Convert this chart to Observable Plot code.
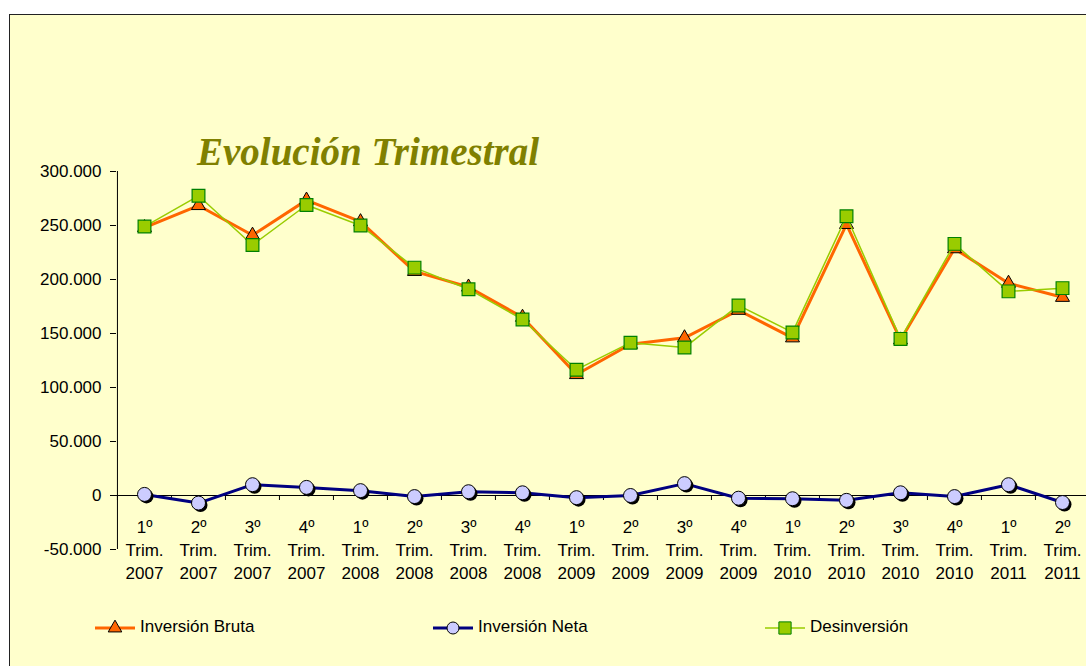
<!DOCTYPE html>
<html><head><meta charset="utf-8">
<script src="https://cdn.jsdelivr.net/npm/d3@7"></script>
<script src="https://cdn.jsdelivr.net/npm/@observablehq/plot@0.6"></script>
<style>
html,body{margin:0;padding:0;background:#fff;overflow:hidden;width:1086px;height:666px;}
#frame{position:absolute;left:9px;top:14px;width:1100px;height:700px;background:#FFFFCC;border-left:1px solid #222;border-top:1px solid #222;}
#chart,#overlay{position:absolute;left:0;top:0;}
#chart{width:1100px;}
#chart svg{max-width:none !important;}
</style></head><body>
<div id="frame"></div>
<div id="chart"></div>
<svg id="overlay" width="1086" height="666"></svg>
<script>
const trimestres = ["1º","2º","3º","4º","1º","2º","3º","4º","1º","2º","3º","4º","1º","2º","3º","4º","1º","2º"];
const anios = ["2007","2007","2007","2007","2008","2008","2008","2008","2009","2009","2009","2009","2010","2010","2010","2010","2011","2011"];
const inversionBruta = [248000,268500,241000,273500,253500,207500,193000,165000,112000,140000,146000,171500,146000,251000,144000,228500,196500,183500];
const inversionNeta = [1000,-7000,10000,7500,4500,-1000,3500,2500,-2000,0,11000,-2500,-3000,-4500,2500,-1000,10000,-6500];
const desinversion = [249000,277500,232000,269000,250000,211000,191000,163000,116500,141500,137000,176000,151000,258500,145000,233000,189000,192000];
const yTicks = [-50000,0,50000,100000,150000,200000,250000,300000];
const seriesNames = ["Inversión Bruta","Inversión Neta","Desinversión"];
const titulo = "Evolución Trimestral";

const categories = trimestres.map((t,i)=>`${t}\nTrim.\n${anios[i]}`);
const rows = categories.map((c,i)=>({cat:c, bruta:inversionBruta[i], neta:inversionNeta[i], desinv:desinversion[i]}));

const fmt = d3.formatLocale({decimal:",",thousands:".",grouping:[3],minus:"-"}).format(",");
const W = 1100, ML = 116, MR = 10;
const bw = (W - ML - MR) / categories.length;
const font = "'Liberation Sans', Arial, sans-serif";

const chart = Plot.plot({
  width: W, height: 590,
  marginLeft: ML, marginRight: MR, marginTop: 171, marginBottom: 41,
  style: {background:"transparent", fontFamily: font, fontSize:"17px", color:"#000", overflow:"visible", maxWidth:"none"},
  x: {type:"band", domain: categories, padding:0, axis:null},
  y: {domain:[-50000,300000], axis:null},
  marks: [
    Plot.axisY(yTicks, {tickSize:6, tickPadding:9, tickFormat:fmt, fontSize:17, label:null, stroke:"#000"}),
    Plot.ruleX([categories[0]], {dx:-bw/2, stroke:"#000"}),
    Plot.ruleY([0], {stroke:"#000"}),
    Plot.ruleX(rows, {x:"cat", y1:()=>0, y2:()=>0, insetBottom:-5, dx:-bw/2, stroke:"#000"}),
    Plot.text(rows, {x:"cat", y:()=>0, text:"cat", lineAnchor:"top", dy:21, lineHeight:1.35, fontSize:17, fill:"#000"}),
    // Inversión Bruta
    Plot.line(rows, {x:"cat", y:"bruta", stroke:"#FF6600", strokeWidth:3}),
    Plot.dot(rows, {x:"cat", y:"bruta", symbol:"triangle", r:5.2, fill:"#FF6600", stroke:"#000", strokeWidth:1}),
    // Desinversión
    Plot.line(rows, {x:"cat", y:"desinv", stroke:"#99CC00", strokeWidth:1.5}),
    Plot.dot(rows, {x:"cat", y:"desinv", symbol:"square", r:7.2, fill:"#99CC00", stroke:"#008000", strokeWidth:1.2}),
    // Inversión Neta
    Plot.line(rows, {x:"cat", y:"neta", stroke:"#000080", strokeWidth:3}),
    Plot.dot(rows, {x:"cat", y:"neta", r:7, fill:"#000", dx:2, dy:2}),
    Plot.dot(rows, {x:"cat", y:"neta", r:7, fill:"#CCCCFF", stroke:"#000", strokeWidth:1})
  ]
});
document.getElementById("chart").appendChild(chart);

// Title and legend
const ov = d3.select("#overlay");
ov.append("text").attr("x",197).attr("y",165)
  .attr("font-family","'Liberation Serif', 'Times New Roman', serif")
  .attr("font-size",39).attr("font-weight","bold").attr("font-style","italic")
  .attr("fill","#808000").text(titulo);

const legendItems = [
  {name:seriesNames[0], x:95, stroke:"#FF6600", sw:3, sym:d3.symbolTriangle, size:80, fill:"#FF6600", symStroke:"#000"},
  {name:seriesNames[1], x:433, stroke:"#000080", sw:3, sym:d3.symbolCircle, size:Math.PI*36, fill:"#CCCCFF", symStroke:"#000"},
  {name:seriesNames[2], x:765, stroke:"#99CC00", sw:1.5, sym:d3.symbolSquare, size:150, fill:"#99CC00", symStroke:"#008000"}
];
const ly = 628;
for (const it of legendItems) {
  const g = ov.append("g");
  g.append("line").attr("x1",it.x).attr("x2",it.x+40).attr("y1",ly).attr("y2",ly)
    .attr("stroke",it.stroke).attr("stroke-width",it.sw);
  g.append("path").attr("d",d3.symbol(it.sym,it.size)()).attr("transform",`translate(${it.x+20},${ly})`)
    .attr("fill",it.fill).attr("stroke",it.symStroke);
  g.append("text").attr("x",it.x+45).attr("y",ly+4).attr("font-family",font).attr("font-size",17)
    .attr("fill","#000").text(it.name);
}
</script>
</body></html>
